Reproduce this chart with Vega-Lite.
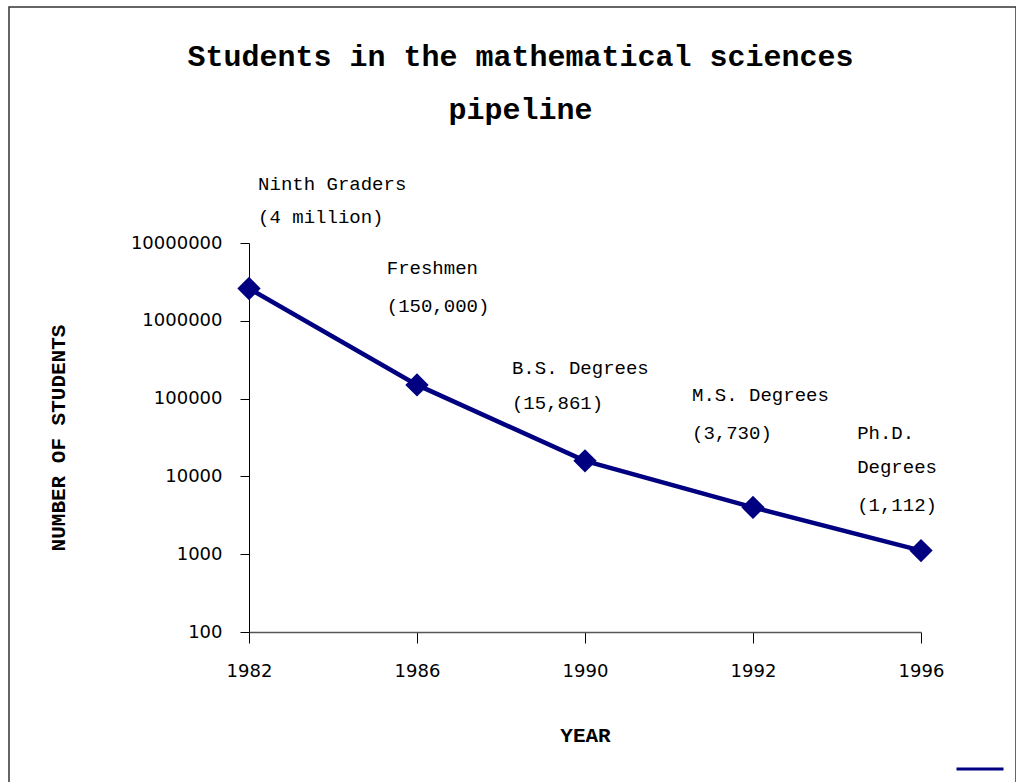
{
  "$schema": "https://vega.github.io/schema/vega-lite/v6.json",
  "autosize": "none",
  "width": 1007,
  "height": 800,
  "padding": {"left": 9, "top": 7, "right": 0, "bottom": 0},
  "background": "white",
  "config": {
    "view": {"stroke": "#333333", "strokeWidth": 1.5},
    "axis": {"grid": false}
  },
  "title": {
    "text": ["Students in the mathematical sciences", "pipeline"],
    "font": "Liberation Mono",
    "fontSize": 30,
    "fontWeight": "bold",
    "lineHeight": 53,
    "anchor": "middle",
    "frame": "group",
    "baseline": "top",
    "offset": -118,
    "dx": 8,
    "color": "black"
  },
  "datasets": {
    "pipeline": [
      {"year": "1982", "stage": "Ninth Graders", "students": 2600000},
      {"year": "1986", "stage": "Freshmen", "students": 150000},
      {"year": "1990", "stage": "B.S. Degrees", "students": 15861},
      {"year": "1992", "stage": "M.S. Degrees", "students": 4000},
      {"year": "1996", "stage": "Ph.D. Degrees", "students": 1112}
    ],
    "labels": [
      {"text": "Ninth Graders", "lx": 0.054, "ly": 57300000},
      {"text": "(4 million)", "lx": 0.054, "ly": 21600000},
      {"text": "Freshmen", "lx": 0.82, "ly": 4770000},
      {"text": "(150,000)", "lx": 0.82, "ly": 1550000},
      {"text": "B.S. Degrees", "lx": 1.565, "ly": 250000},
      {"text": "(15,861)", "lx": 1.565, "ly": 89000},
      {"text": "M.S. Degrees", "lx": 2.637, "ly": 112000},
      {"text": "(3,730)", "lx": 2.637, "ly": 36500},
      {"text": "Ph.D.", "lx": 3.62, "ly": 36100},
      {"text": "Degrees", "lx": 3.62, "ly": 13200},
      {"text": "(1,112)", "lx": 3.62, "ly": 4300}
    ]
  },
  "layer": [
    {
      "data": {"name": "pipeline"},
      "mark": {
        "type": "line",
        "strokeWidth": 4.5,
        "point": {"shape": "diamond", "filled": true, "fill": "#000080", "size": 420, "opacity": 1}
      },
      "encoding": {
        "x": {
          "field": "year",
          "type": "ordinal",
          "scale": {"type": "point", "range": [240, 912], "padding": 0},
          "axis": {
            "title": "YEAR",
            "offset": -175,
            "labelAngle": 0,
            "labelFont": "DejaVu Sans",
            "labelFontSize": 18,
            "labelColor": "black",
            "labelPadding": 19,
            "tickSize": 11,
            "tickColor": "black",
            "domainColor": "#555555",
            "domainWidth": 1.5,
            "titleFont": "Liberation Mono",
            "titleFontSize": 21,
            "titleFontWeight": "bold",
            "titleColor": "black",
            "titlePadding": 44
          }
        },
        "y": {
          "field": "students",
          "type": "quantitative",
          "scale": {"type": "log", "domain": [100, 10000000], "range": [625, 236], "nice": false},
          "axis": {
            "title": "NUMBER OF STUDENTS",
            "offset": -240,
            "values": [100, 1000, 10000, 100000, 1000000, 10000000],
            "format": "d",
            "labelFont": "DejaVu Sans",
            "labelFontSize": 18,
            "labelColor": "black",
            "labelPadding": 18,
            "tickSize": 9,
            "tickColor": "black",
            "domainColor": "black",
            "titleFont": "Liberation Mono",
            "titleFontSize": 21,
            "titleFontWeight": "bold",
            "titleColor": "black",
            "titlePadding": 62
          }
        },
        "stroke": {
          "datum": "Students",
          "scale": {"range": ["#000080"]},
          "legend": {
            "orient": "none",
            "legendX": 946,
            "legendY": 737,
            "title": null,
            "symbolType": "stroke",
            "symbolSize": 2209,
            "symbolStrokeWidth": 3,
            "labelExpr": "''",
            "labelFontSize": 1
          }
        }
      }
    },
    {
      "data": {"name": "labels"},
      "mark": {"type": "text", "font": "Liberation Mono", "fontSize": 19, "align": "left", "baseline": "middle", "color": "black"},
      "encoding": {
        "x": {"field": "lx", "type": "quantitative", "scale": {"domain": [0, 4], "range": [240, 912], "nice": false, "zero": false}, "axis": null},
        "y": {"field": "ly", "type": "quantitative"},
        "text": {"field": "text"}
      }
    }
  ],
  "resolve": {"scale": {"x": "independent"}}
}
